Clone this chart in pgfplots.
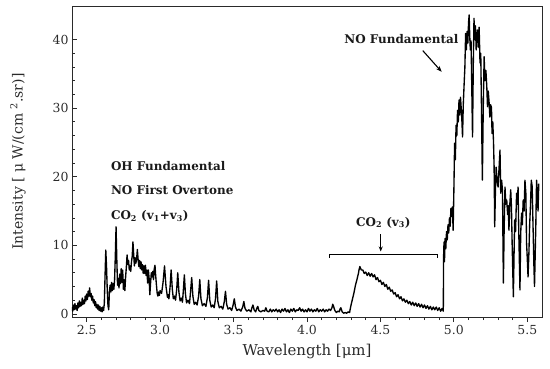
\documentclass[border=0pt]{standalone}
\usepackage{fontspec}
\setmainfont{DejaVu Serif}
\usepackage{pgfplots}
\pgfplotsset{compat=1.18}
\usetikzlibrary{arrows.meta}
\definecolor{axgray}{HTML}{2A2A2A}
\definecolor{txt}{HTML}{1A1A1A}
\begin{document}
\begin{tikzpicture}
\begin{axis}[
  at={(0,0)}, anchor=south west,
  scale only axis, width=470bp, height=311bp,
  xmin=2.40, xmax=5.60, ymin=-0.45, ymax=44.9,
  xtick={2.5,3.0,3.5,4.0,4.5,5.0,5.5},
  xticklabels={2.5,3.0,3.5,4.0,4.5,5.0,5.5},
  ytick={0,10,20,30,40},
  minor x tick num=4, minor y tick num=4,
  tick pos=left,
  xtick align=outside, ytick align=inside,
  major tick length=5bp, minor tick length=3bp,
  axis line style={axgray, line width=0.9bp},
  every tick/.style={axgray, line width=0.8bp},
  tick label style={font=\fontsize{12.5}{14}\selectfont, text=axgray},
  /pgf/number format/assume math mode=true,
  xlabel={Wavelength [μm]},
  ylabel={Intensity [ μ W/(cm \textsuperscript{2}.sr)]},
  xlabel style={font=\fontsize{15}{17}\selectfont, text=axgray, at={(axis description cs:0.5,-0.112)}, anchor=center},
  ylabel style={font=\fontsize{14}{16}\selectfont, text=axgray, at={(axis description cs:-0.115,0.5)}, anchor=center},
  clip=true,
]
\addplot[black, line width=1.35bp, line join=round] table {
x y
2.400 1.0
2.405 0.4
2.410 1.3
2.415 0.6
2.420 1.5
2.425 0.7
2.430 1.2
2.435 0.5
2.440 1.6
2.445 0.9
2.450 1.9
2.455 1.1
2.460 1.7
2.465 1.2
2.470 2.3
2.475 1.4
2.480 2.0
2.485 1.5
2.490 2.6
2.495 1.9
2.500 2.9
2.505 2.1
2.510 3.3
2.515 2.6
2.520 3.8
2.525 2.5
2.530 3.0
2.535 2.0
2.540 2.6
2.545 1.6
2.550 2.1
2.555 1.2
2.560 1.8
2.565 0.9
2.570 1.4
2.575 0.7
2.580 1.3
2.585 0.5
2.590 1.1
2.595 0.4
2.600 0.9
2.605 0.3
2.610 1.0
2.615 0.5
2.620 1.5
2.625 5.5
2.630 9.3
2.635 7.0
2.640 3.5
2.645 1.2
2.650 0.6
2.655 3.4
2.660 4.2
2.665 3.2
2.670 4.6
2.675 3.4
2.680 4.4
2.685 3.6
2.690 5.0
2.695 8.5
2.700 12.7
2.705 8.0
2.710 4.2
2.715 5.2
2.720 3.8
2.725 5.8
2.730 4.4
2.735 6.6
2.740 4.6
2.745 6.4
2.750 3.6
2.755 5.0
2.760 3.4
2.765 5.4
2.770 6.8
2.775 8.6
2.780 7.2
2.785 7.8
2.790 6.4
2.795 7.0
2.800 6.2
2.805 7.6
2.810 8.4
2.815 10.5
2.820 8.6
2.825 7.0
2.830 8.2
2.835 7.4
2.840 8.0
2.845 9.4
2.850 8.0
2.855 6.9
2.860 7.8
2.865 6.6
2.870 7.6
2.875 6.4
2.880 7.2
2.885 5.9
2.890 7.0
2.895 5.9
2.900 7.1
2.905 5.6
2.910 6.4
2.915 4.5
2.920 6.4
2.925 5.2
2.930 2.8
2.935 4.5
2.940 6.0
2.945 5.4
2.950 6.2
2.955 5.0
2.960 6.6
2.965 7.1
2.970 5.5
2.975 4.2
2.980 3.0
2.985 2.6
2.990 3.2
2.995 2.7
3.000 3.4
3.010 3.0
3.020 4.6
3.030 7.0
3.040 4.0
3.050 2.4
3.055 2.8
3.060 2.2
3.068 4.0
3.075 6.4
3.083 3.6
3.090 2.2
3.098 2.6
3.105 2.0
3.113 3.6
3.120 6.0
3.128 3.2
3.136 1.9
3.145 2.3
3.152 1.7
3.158 3.4
3.165 5.7
3.172 3.0
3.180 1.6
3.190 2.0
3.200 1.5
3.207 3.2
3.215 5.3
3.223 2.6
3.232 1.4
3.242 1.7
3.252 1.3
3.262 2.6
3.270 5.0
3.278 2.2
3.288 1.2
3.300 1.5
3.312 1.1
3.322 2.4
3.330 4.9
3.338 2.0
3.348 1.0
3.358 1.3
3.368 0.9
3.377 2.2
3.385 4.8
3.393 1.8
3.403 0.9
3.415 1.1
3.427 0.7
3.437 1.8
3.445 3.3
3.453 1.4
3.463 0.7
3.475 0.9
3.487 0.5
3.497 1.3
3.505 2.2
3.513 1.0
3.523 0.5
3.537 0.7
3.550 0.4
3.562 1.0
3.570 1.8
3.578 0.8
3.590 0.4
3.605 0.6
3.618 0.3
3.625 0.9
3.632 1.3
3.640 0.6
3.650 0.3
3.658 0.8
3.665 1.1
3.672 0.5
3.685 0.3
3.700 0.5
3.712 0.4
3.720 0.9
3.728 0.4
3.740 0.3
3.750 0.7
3.760 0.3
3.770 0.6
3.780 0.4
3.790 0.7
3.800 0.3
3.810 0.6
3.820 0.2
3.830 0.7
3.840 0.4
3.850 0.8
3.860 0.3
3.870 0.6
3.880 0.2
3.890 0.7
3.900 0.4
3.910 0.8
3.920 0.3
3.930 0.6
3.940 0.5
3.950 0.9
3.960 0.4
3.970 0.7
3.980 0.3
3.990 0.6
4.000 0.3
4.010 0.8
4.020 0.4
4.030 0.7
4.040 0.3
4.050 0.6
4.060 0.4
4.070 0.8
4.080 0.3
4.090 0.6
4.100 0.4
4.110 0.7
4.120 0.3
4.130 0.6
4.140 0.4
4.150 0.7
4.160 0.5
4.170 0.9
4.175 1.4
4.180 1.2
4.185 0.8
4.190 0.5
4.200 0.2
4.210 0.4
4.220 0.3
4.225 0.7
4.230 0.9
4.235 0.6
4.240 0.3
4.250 0.1
4.260 0.2
4.270 0.1
4.280 0.3
4.290 0.2
4.295 0.8
4.300 1.3
4.310 2.2
4.320 3.1
4.330 4.2
4.340 5.0
4.350 5.9
4.355 6.5
4.360 6.9
4.370 6.4
4.380 6.4
4.390 5.9
4.400 6.1
4.410 5.6
4.420 6.0
4.430 5.5
4.440 5.9
4.450 5.4
4.460 5.7
4.470 5.0
4.480 5.3
4.490 4.7
4.500 4.9
4.510 4.3
4.520 4.6
4.530 4.0
4.540 4.3
4.550 3.6
4.560 3.9
4.570 3.3
4.580 3.5
4.590 2.9
4.600 3.1
4.610 2.5
4.620 2.8
4.630 2.2
4.640 2.5
4.650 1.9
4.660 2.2
4.670 1.7
4.680 2.0
4.690 1.5
4.700 1.8
4.710 1.3
4.720 1.7
4.730 1.2
4.740 1.6
4.750 1.1
4.760 1.5
4.770 1.0
4.780 1.4
4.790 0.9
4.800 1.3
4.810 0.8
4.820 1.2
4.830 0.7
4.840 1.1
4.850 0.6
4.860 1.0
4.870 0.6
4.880 1.0
4.890 0.5
4.900 0.9
4.910 0.4
4.920 0.8
4.928 0.4
4.930 8.3
4.933 10.5
4.936 7.6
4.940 11.0
4.945 9.5
4.950 12.0
4.955 10.8
4.960 13.0
4.965 11.8
4.970 14.0
4.975 12.8
4.980 15.4
4.985 14.2
4.990 15.6
4.995 12.2
5.000 18.0
5.005 24.9
5.010 22.5
5.015 27.5
5.020 26.0
5.025 29.7
5.030 28.0
5.035 31.2
5.040 29.0
5.045 31.6
5.050 30.0
5.055 28.0
5.059 25.8
5.064 30.5
5.070 33.6
5.075 36.0
5.080 40.9
5.085 38.5
5.090 41.2
5.095 39.5
5.100 42.5
5.104 43.6
5.108 40.5
5.112 38.5
5.117 39.8
5.122 33.0
5.127 25.8
5.132 36.0
5.137 43.1
5.142 40.0
5.147 42.0
5.152 38.5
5.157 40.5
5.162 41.4
5.167 38.9
5.172 41.8
5.178 36.6
5.183 38.0
5.188 30.0
5.194 19.5
5.200 30.0
5.206 37.5
5.212 34.0
5.218 35.5
5.224 33.2
5.229 30.2
5.234 32.5
5.240 30.8
5.245 28.7
5.250 30.5
5.256 30.1
5.260 26.3
5.265 28.0
5.270 25.0
5.274 21.4
5.278 12.7
5.283 18.0
5.288 21.4
5.294 19.5
5.301 18.5
5.307 21.0
5.314 23.9
5.319 17.6
5.325 19.5
5.331 18.0
5.337 4.5
5.342 12.0
5.348 18.5
5.354 16.0
5.360 16.6
5.366 14.5
5.370 15.8
5.375 12.2
5.381 16.0
5.387 18.1
5.392 15.6
5.397 10.0
5.405 2.5
5.410 9.0
5.414 13.7
5.420 12.0
5.427 17.6
5.432 16.0
5.437 18.5
5.442 11.8
5.450 3.5
5.455 11.8
5.461 14.7
5.466 13.0
5.472 16.6
5.478 15.0
5.484 19.5
5.490 17.6
5.495 10.3
5.500 8.0
5.505 5.4
5.511 9.0
5.516 13.0
5.522 16.0
5.527 19.5
5.533 18.6
5.540 11.8
5.545 7.0
5.549 4.0
5.554 9.0
5.558 13.0
5.563 19.5
5.568 18.0
5.573 15.0
5.578 19.0
};
% annotations
\node[anchor=base west, font=\fontsize{12}{14}\selectfont\bfseries, text=txt] at (axis cs:2.642,20.85) {OH Fundamental};
\node[anchor=base west, font=\fontsize{12}{14}\selectfont\bfseries, text=txt] at (axis cs:2.642,17.35) {NO First Overtone};
\node[anchor=base west, font=\fontsize{12}{14}\selectfont\bfseries, text=txt] at (axis cs:2.642,13.7) {CO\textsubscript{2} (v\textsubscript{1}+v\textsubscript{3})};
\node[anchor=base, font=\fontsize{12}{14}\selectfont\bfseries, text=txt] at (axis cs:4.52,12.8) {CO\textsubscript{2} (v\textsubscript{3})};
\draw[black, line width=1bp, -{Stealth[length=5bp,width=4bp]}] (axis cs:4.502,11.6) -- (axis cs:4.502,9.1);
\draw[black, line width=1bp] (axis cs:4.152,8.2) -- (axis cs:4.152,8.7) -- (axis cs:4.89,8.7) -- (axis cs:4.89,8.2);
\node[anchor=base, font=\fontsize{12}{14}\selectfont\bfseries, text=txt] at (axis cs:4.643,39.5) {NO Fundamental};
\draw[black, line width=1.1bp, -{Stealth[length=6bp,width=4.5bp]}] (axis cs:4.788,38.4) -- (axis cs:4.917,35.3);
\end{axis}
\pgfresetboundingbox
\path (-72bp,-52bp) rectangle (478bp,317bp);
\end{tikzpicture}
\end{document}
